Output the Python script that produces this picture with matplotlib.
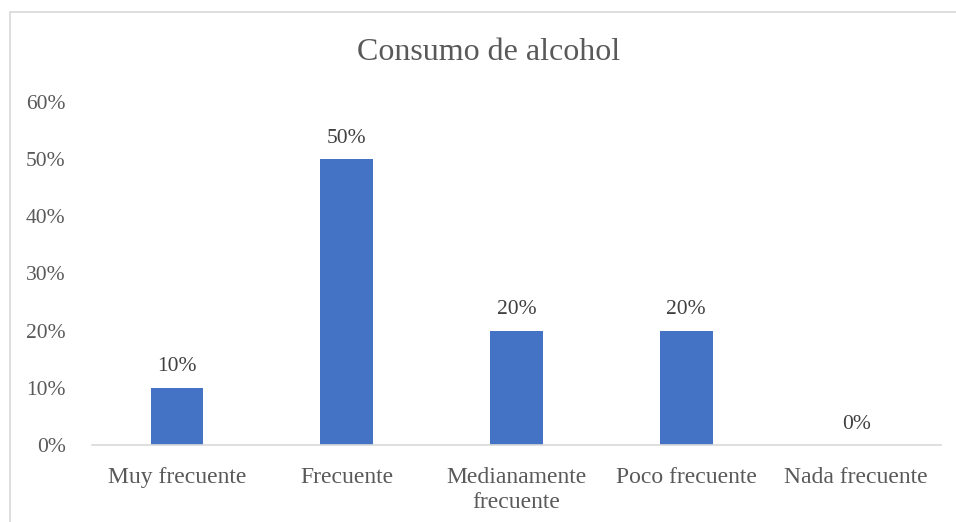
import matplotlib
matplotlib.use("Agg")
import matplotlib.pyplot as plt
from matplotlib.patches import Rectangle

categorias = ["Muy frecuente", "Frecuente", "Medianamente\nfrecuente",
              "Poco frecuente", "Nada frecuente"]
valores = [10, 50, 20, 20, 0]
etiquetas = ["10%", "50%", "20%", "20%", "0%"]
yticks = [0, 10, 20, 30, 40, 50, 60]
titulo = "Consumo de alcohol"

plt.rcParams["font.family"] = ["Liberation Serif", "DejaVu Serif"]

fig = plt.figure(figsize=(9.56, 5.22), dpi=100)
# chart border
fig.patches.append(Rectangle((10 / 956, -0.05), 1.0, 1 - 12 / 522 + 0.05,
                             transform=fig.transFigure, fill=False,
                             edgecolor="#D9D9D9", linewidth=1.2))

ax = fig.add_axes([92 / 956, 1 - 445 / 522, (941 - 92) / 956, (445 - 102) / 522])
x = range(len(categorias))
bars = ax.bar(x, valores, width=0.31, color="#4472C4", zorder=2)

for b, lab in zip(bars, etiquetas):
    ax.text(b.get_x() + b.get_width() / 2, b.get_height() + 2.0, lab,
            ha="center", va="bottom", fontsize=15.5, color="#404040")

ax.set_xlim(-0.5, len(categorias) - 0.5)
ax.set_ylim(0, 60)
ax.set_yticks(yticks)
ax.set_yticklabels([f"{v}%" for v in yticks])
ax.set_xticks(list(x))
ax.set_xticklabels(categorias, linespacing=1.25)
ax.tick_params(axis="y", length=0, pad=19, labelsize=15.5, labelcolor="#595959")
ax.tick_params(axis="x", length=0, pad=16, labelsize=17, labelcolor="#595959")

for s in ["left", "right", "top"]:
    ax.spines[s].set_visible(False)
ax.spines["bottom"].set_color("#D9D9D9")
ax.spines["bottom"].set_linewidth(1.2)

fig.text(489 / 956, 1 - 53 / 522, titulo, ha="center", va="center",
         fontsize=23, color="#595959")

fig.savefig("out.png", dpi=100)
